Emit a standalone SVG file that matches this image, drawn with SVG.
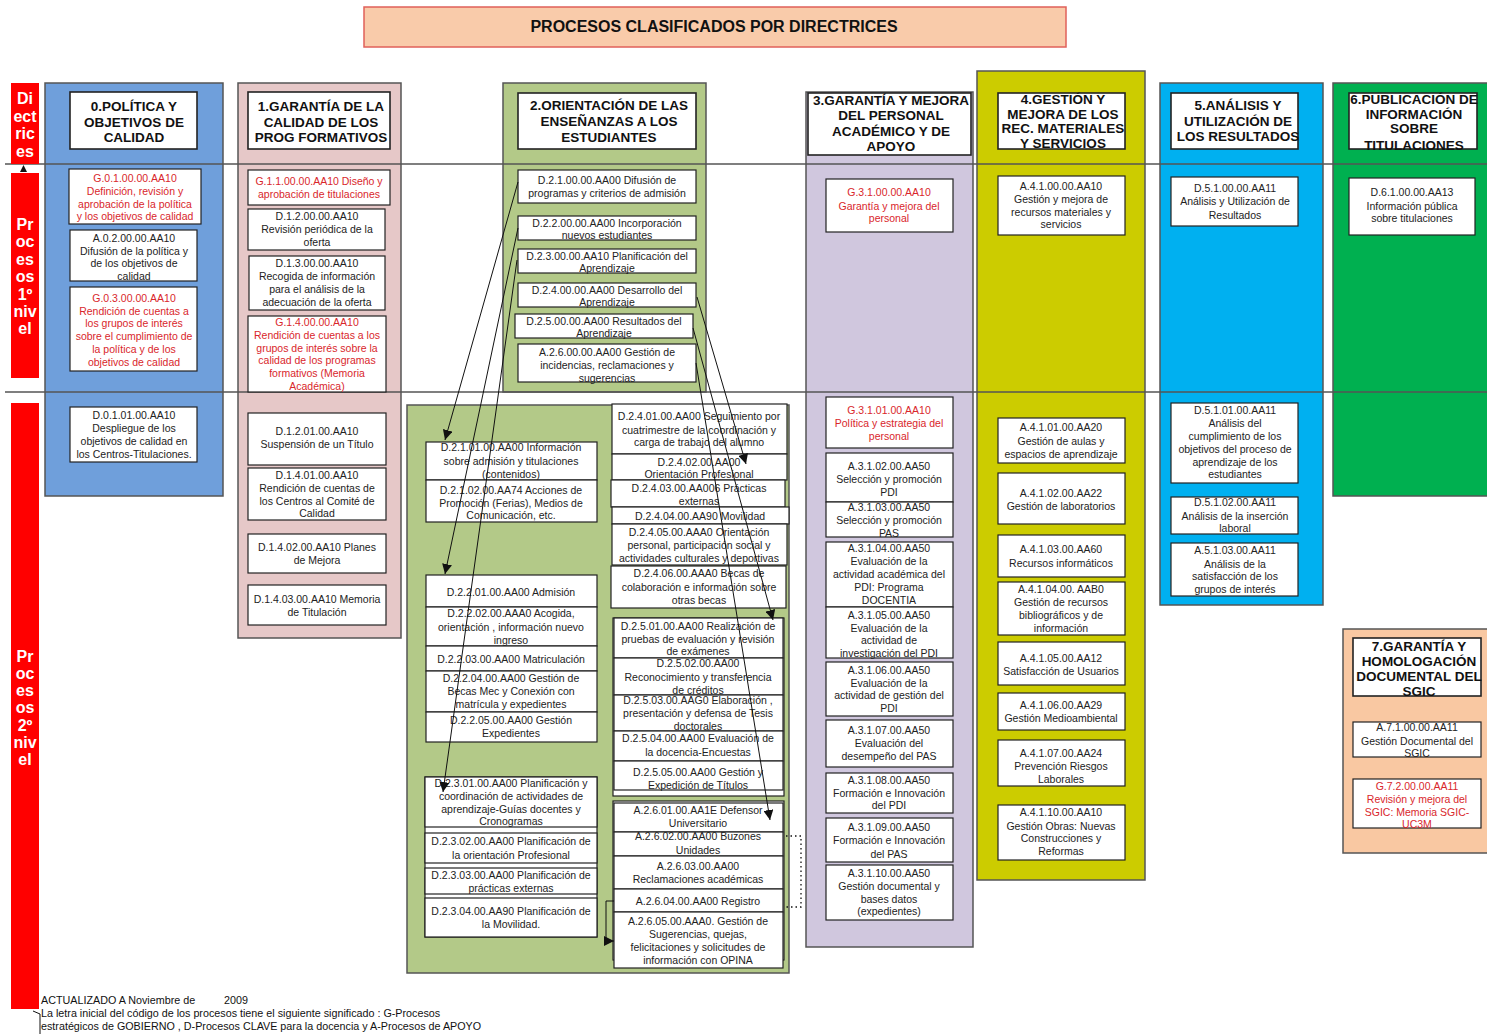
<svg xmlns="http://www.w3.org/2000/svg" width="1487" height="1034" viewBox="0 0 1487 1034">
<style>
.bg{fill:#fff}
.col{stroke:#555;stroke-width:1.5}
.box{fill:#fff;stroke:#222;stroke-width:1.2}
.hdr{fill:#fff;stroke:#222;stroke-width:1.6}
.t{font-family:"Liberation Sans",Arial,sans-serif;font-size:10.5px;fill:#222;text-anchor:middle}
.r{fill:#d9262b}
.h{font-family:"Liberation Sans",Arial,sans-serif;font-size:13.5px;font-weight:bold;fill:#111;text-anchor:middle}
.rb{font-family:"Liberation Sans",Arial,sans-serif;font-size:16px;font-weight:bold;fill:#fff;text-anchor:middle}
.sep{stroke:#555;stroke-width:1.5;fill:none}
.cn{stroke:#111;stroke-width:1;fill:none}
.dot{stroke:#111;stroke-width:1.3;fill:none;stroke-dasharray:1.5 3}
.foot{font-family:"Liberation Sans",Arial,sans-serif;font-size:10.75px;fill:#111}
</style>
<defs>
<marker id="ar" viewBox="0 0 10 10" refX="10" refY="5" markerWidth="10" markerHeight="10" markerUnits="userSpaceOnUse" orient="auto">
<path d="M0,0 L10,5 L0,10 z" fill="#111"/>
</marker>
</defs>
<rect class="bg" x="0" y="0" width="1487" height="1034"/>

<g id="title">
<rect x="364" y="7" width="702" height="40" fill="#F9CBAA" stroke="#E0605A" stroke-width="1.5"/>
<text x="714" y="32" font-family="Liberation Sans, Arial, sans-serif" font-size="16" font-weight="bold" text-anchor="middle" fill="#111">PROCESOS CLASIFICADOS POR DIRECTRICES</text>
</g>

<g id="columns">
<rect class="col" x="45" y="83" width="178" height="413" fill="#6F9FDB"/>
<rect class="col" x="238" y="83" width="163" height="555" fill="#E6C8C8"/>
<rect class="col" x="503" y="83" width="203" height="309" fill="#B3C988"/>
<rect class="col" x="407" y="405" width="382" height="568" fill="#B3C988"/>
<rect class="col" x="806" y="92" width="167" height="855" fill="#D0C7DE"/>
<rect class="col" x="977" y="71" width="168" height="809" fill="#CCCC00"/>
<rect class="col" x="1160" y="83" width="163" height="522" fill="#00B0F0"/>
<rect class="col" x="1333" y="83" width="160" height="413" fill="#00B050"/>
<rect class="col" x="1343" y="629" width="150" height="224" fill="#F9C8A2"/>
</g>

<g id="levels">
<line class="sep" x1="5" y1="164" x2="1487" y2="164"/>
<line class="sep" x1="5" y1="392" x2="1487" y2="392"/>
<rect x="11" y="83" width="28" height="81" fill="#FF0000"/>
<text class="rb" x="25" y="104">Di<tspan x="25" dy="17.5">ect</tspan><tspan x="25" dy="17.5">ric</tspan><tspan x="25" dy="17.5">es</tspan></text>
<rect x="11" y="173" width="28" height="205" fill="#FF0000"/>
<text class="rb" x="25" y="230">Pr<tspan x="25" dy="17.4">oc</tspan><tspan x="25" dy="17.4">es</tspan><tspan x="25" dy="17.4">os</tspan><tspan x="25" dy="17.4">1º</tspan><tspan x="25" dy="17.4">niv</tspan><tspan x="25" dy="17.4">el</tspan></text>
<rect x="11" y="403" width="28" height="606" fill="#FF0000"/>
<text class="rb" x="25" y="662">Pr<tspan x="25" dy="17">oc</tspan><tspan x="25" dy="17">es</tspan><tspan x="25" dy="17">os</tspan><tspan x="25" dy="17.5">2º</tspan><tspan x="25" dy="17">niv</tspan><tspan x="25" dy="17">el</tspan></text>
<path d="M20,172 L27,172 L23.5,165 z" fill="#111"/>
</g>

<g id="h0"><rect class="hdr" x="70" y="92" width="127" height="57"/><text class="h" x="134" y="111">0.POLÍTICA Y<tspan x="134" dy="15.5">OBJETIVOS DE</tspan><tspan x="134" dy="15.5">CALIDAD</tspan></text></g>
<g id="G01"><rect class="box" x="69" y="169" width="132" height="55"/><text class="t r" x="135" y="182">G.0.1.00.00.AA10<tspan x="135" dy="12.8">Definición, revisión y</tspan><tspan x="135" dy="12.8">aprobación de la política</tspan><tspan x="135" dy="12.8">y los objetivos de calidad</tspan></text></g>
<g id="A02"><rect class="box" x="70" y="230" width="127" height="51"/><text class="t" x="134" y="242">A.0.2.00.00.AA10<tspan x="134" dy="12.5">Difusión de la política y</tspan><tspan x="134" dy="12.5">de los objetivos de</tspan><tspan x="134" dy="12.5">calidad</tspan></text></g>
<g id="G03"><rect class="box" x="70" y="287" width="127" height="84"/><text class="t r" x="134" y="302">G.0.3.00.00.AA10<tspan x="134" dy="12.7">Rendición de cuentas a</tspan><tspan x="134" dy="12.7">los grupos de interés</tspan><tspan x="134" dy="12.7">sobre el cumplimiento de</tspan><tspan x="134" dy="12.7">la política y de los</tspan><tspan x="134" dy="12.7">objetivos de calidad</tspan></text></g>
<g id="D0101"><rect class="box" x="70" y="407" width="127" height="55"/><text class="t" x="134" y="419">D.0.1.01.00.AA10<tspan x="134" dy="13">Despliegue de los</tspan><tspan x="134" dy="13">objetivos de calidad  en</tspan><tspan x="134" dy="13">los Centros-Titulaciones.</tspan></text></g>

<g id="h1"><rect class="hdr" x="248" y="92" width="142" height="57"/><text class="h" x="321" y="111">1.GARANTÍA DE LA<tspan x="321" dy="15.5">CALIDAD DE LOS</tspan><tspan x="321" dy="15.5">PROG FORMATIVOS</tspan></text></g>
<g id="G11"><rect class="box" x="248" y="170" width="142" height="35"/><text class="t r" x="319" y="185">G.1.1.00.00.AA10 Diseño y<tspan x="319" dy="13">aprobación de titulaciones</tspan></text></g>
<g id="D12"><rect class="box" x="248" y="209" width="137" height="41"/><text class="t" x="317" y="220">D.1.2.00.00.AA10<tspan x="317" dy="13">Revisión periódica de la</tspan><tspan x="317" dy="13">oferta</tspan></text></g>
<g id="D13"><rect class="box" x="249" y="256" width="136" height="54"/><text class="t" x="317" y="267">D.1.3.00.00.AA10<tspan x="317" dy="13">Recogida de información</tspan><tspan x="317" dy="13">para el análisis de la</tspan><tspan x="317" dy="12.5">adecuación de la oferta</tspan></text></g>
<g id="G14"><rect class="box" x="248" y="316" width="138" height="76"/><text class="t r" x="317" y="326">G.1.4.00.00.AA10<tspan x="317" dy="12.8">Rendición de cuentas a los</tspan><tspan x="317" dy="12.8">grupos de interés sobre la</tspan><tspan x="317" dy="12.8">calidad de los programas</tspan><tspan x="317" dy="12.8">formativos (Memoria</tspan><tspan x="317" dy="12.8">Académica)</tspan></text></g>
<g id="D1201"><rect class="box" x="248" y="413" width="138" height="52"/><text class="t" x="317" y="435">D.1.2.01.00.AA10<tspan x="317" dy="13">Suspensión de un Título</tspan></text></g>
<g id="D1401"><rect class="box" x="248" y="468" width="138" height="52"/><text class="t" x="317" y="479">D.1.4.01.00.AA10<tspan x="317" dy="12.8">Rendición de cuentas de</tspan><tspan x="317" dy="12.8">los Centros al Comité de</tspan><tspan x="317" dy="12.8">Calidad</tspan></text></g>
<g id="D1402"><rect class="box" x="248" y="534" width="138" height="39"/><text class="t" x="317" y="551">D.1.4.02.00.AA10 Planes<tspan x="317" dy="13">de Mejora</tspan></text></g>
<g id="D1403"><rect class="box" x="248" y="585" width="138" height="40"/><text class="t" x="317" y="603">D.1.4.03.00.AA10 Memoria<tspan x="317" dy="12.5">de Titulación</tspan></text></g>

<g id="h2"><rect class="hdr" x="518" y="93" width="178" height="56"/><text class="h" x="609" y="110">2.ORIENTACIÓN DE LAS<tspan x="609" dy="15.8">ENSEÑANZAS A LOS</tspan><tspan x="609" dy="15.8">ESTUDIANTES</tspan></text></g>
<g id="D21"><rect class="box" x="518" y="170" width="178" height="33"/><text class="t" x="607" y="184">D.2.1.00.00.AA00  Difusión de<tspan x="607" dy="13">programas y criterios de admisión</tspan></text></g>
<g id="D22"><rect class="box" x="518" y="216" width="178" height="24"/><text class="t" x="607" y="227">D.2.2.00.00.AA00 Incorporación<tspan x="607" dy="12">nuevos estudiantes</tspan></text></g>
<g id="D23"><rect class="box" x="518" y="249" width="178" height="24"/><text class="t" x="607" y="260">D.2.3.00.00.AA10 Planificación del<tspan x="607" dy="12">Aprendizaje</tspan></text></g>
<g id="D24"><rect class="box" x="518" y="283" width="178" height="24"/><text class="t" x="607" y="294">D.2.4.00.00.AA00 Desarrollo del<tspan x="607" dy="12">Aprendizaje</tspan></text></g>
<g id="D25"><rect class="box" x="515" y="314" width="178" height="24"/><text class="t" x="604" y="325">D.2.5.00.00.AA00 Resultados del<tspan x="604" dy="12">Aprendizaje</tspan></text></g>
<g id="A26"><rect class="box" x="518" y="344" width="178" height="38"/><text class="t" x="607" y="356">A.2.6.00.00.AA00 Gestión de<tspan x="607" dy="12.5">incidencias, reclamaciones y</tspan><tspan x="607" dy="13">sugerencias</tspan></text></g>

<g id="D2101"><rect class="box" x="426" y="442" width="171" height="38"/><text class="t" x="511" y="451">D.2.1.01.00.AA00 Información<tspan x="511" dy="13.5">sobre admisión y titulaciones</tspan><tspan x="511" dy="13">(contenidos)</tspan></text></g>
<g id="D2102"><rect class="box" x="426" y="480" width="171" height="42"/><text class="t" x="511" y="494">D.2.1.02.00.AA74 Acciones de<tspan x="511" dy="12.5">Promoción  (Ferias), Medios de</tspan><tspan x="511" dy="12.5">Comunicación, etc.</tspan></text></g>
<g id="D2201"><rect class="box" x="426" y="575" width="171" height="32"/><text class="t" x="511" y="596">D.2.2.01.00.AA00 Admisión</text></g>
<g id="D2202"><rect class="box" x="426" y="607" width="171" height="39"/><text class="t" x="511" y="617">D.2.2.02.00.AAA0 Acogida,<tspan x="511" dy="13.5">orientación , información nuevo</tspan><tspan x="511" dy="13">ingreso</tspan></text></g>
<g id="D2203"><rect class="box" x="426" y="646" width="171" height="25"/><text class="t" x="511" y="663">D.2.2.03.00.AA00 Matriculación</text></g>
<g id="D2204"><rect class="box" x="426" y="671" width="171" height="41"/><text class="t" x="511" y="682">D.2.2.04.00.AA00 Gestión de<tspan x="511" dy="13">Becas Mec y Conexión con</tspan><tspan x="511" dy="13">matrícula y expedientes</tspan></text></g>
<g id="D2205"><rect class="box" x="426" y="712" width="171" height="30"/><text class="t" x="511" y="724">D.2.2.05.00.AA00 Gestión<tspan x="511" dy="13">Expedientes</tspan></text></g>
<g id="D23grp"><rect class="box" x="425" y="777" width="172" height="160"/></g>
<g id="D2301"><rect class="box" x="425" y="777" width="172" height="50"/><text class="t" x="511" y="787">D.2.3.01.00.AA00 Planificación y<tspan x="511" dy="12.8">coordinación de actividades de</tspan><tspan x="511" dy="12.8">aprendizaje-Guías docentes y</tspan><tspan x="511" dy="12.8">Cronogramas</tspan></text></g>
<g id="D2302"><rect class="box" x="425" y="833" width="172" height="30"/><text class="t" x="511" y="845">D.2.3.02.00.AA00 Planificación de<tspan x="511" dy="14">la orientación Profesional</tspan></text></g>
<g id="D2303"><rect class="box" x="425" y="868" width="172" height="26"/><text class="t" x="511" y="879">D.2.3.03.00.AA00 Planificación de<tspan x="511" dy="13">prácticas externas</tspan></text></g>
<g id="D2304"><rect class="box" x="425" y="898" width="172" height="39"/><text class="t" x="511" y="915">D.2.3.04.00.AA90 Planificación de<tspan x="511" dy="13">la Movilidad.</tspan></text></g>

<g id="D2401"><rect class="box" x="612" y="404" width="175" height="50"/><text class="t" x="699" y="420">D.2.4.01.00.AA00 Seguimiento por<tspan x="699" dy="13.5">cuatrimestre de la coordinación y</tspan><tspan x="699" dy="12.5">carga de trabajo del alumno</tspan></text></g>
<g id="D2402"><rect class="box" x="612" y="454" width="175" height="26"/><text class="t" x="699" y="466">D.2.4.02.00.AA00<tspan x="699" dy="12">Orientación Profesional</tspan></text></g>
<g id="D2403"><rect class="box" x="611" y="480" width="174" height="27"/><text class="t" x="699" y="492">D.2.4.03.00.AA006 Prácticas<tspan x="699" dy="13">externas</tspan></text></g>
<g id="D2404"><rect class="box" x="612" y="507" width="177" height="17"/><text class="t" x="700" y="520">D.2.4.04.00.AA90 Movilidad</text></g>
<g id="D2405"><rect class="box" x="612" y="524" width="175" height="41"/><text class="t" x="699" y="536">D.2.4.05.00.AAA0 Orientación<tspan x="699" dy="13">personal, participación social y</tspan><tspan x="699" dy="13">actividades culturales y deportivas</tspan></text></g>
<g id="D2406"><rect class="box" x="611" y="566" width="175" height="42"/><text class="t" x="699" y="577">D.2.4.06.00.AAA0 Becas de<tspan x="699" dy="13.5">colaboración e información sobre</tspan><tspan x="699" dy="13">otras becas</tspan></text></g>

<g id="D25grp"><rect class="box" x="613" y="618" width="171" height="178"/></g>
<g id="D2501"><rect class="box" x="614" y="618" width="169" height="40"/><text class="t" x="698" y="630">D.2.5.01.00.AA00 Realización de<tspan x="698" dy="12.5">pruebas de evaluación y revisión</tspan><tspan x="698" dy="12.5">de exámenes</tspan></text></g>
<g id="D2502"><rect class="box" x="614" y="658" width="169" height="37"/><text class="t" x="698" y="667">D.2.5.02.00.AA00<tspan x="698" dy="13.5">Reconocimiento y transferencia</tspan><tspan x="698" dy="13">de créditos</tspan></text></g>
<g id="D2503"><rect class="box" x="614" y="695" width="169" height="36"/><text class="t" x="698" y="704">D.2.5.03.00.AAG0 Elaboración ,<tspan x="698" dy="13">presentación y defensa de Tesis</tspan><tspan x="698" dy="13">doctorales</tspan></text></g>
<g id="D2504"><rect class="box" x="614" y="731" width="169" height="30"/><text class="t" x="698" y="742">D.2.5.04.00.AA00  Evaluación de<tspan x="698" dy="14">la docencia-Encuestas</tspan></text></g>
<g id="D2505"><rect class="box" x="614" y="761" width="169" height="29"/><text class="t" x="698" y="776">D.2.5.05.00.AA00 Gestión y<tspan x="698" dy="12.5">Expedición de Títulos</tspan></text></g>

<g id="A26grp"><rect class="box" x="613" y="801" width="171" height="159"/></g>
<g id="A2601"><rect class="box" x="614" y="803" width="169" height="29"/><text class="t" x="698" y="814">A.2.6.01.00.AA1E Defensor<tspan x="698" dy="13">Universitario</tspan></text></g>
<g id="A2602"><rect class="box" x="614" y="832" width="169" height="24"/><text class="t" x="698" y="840">A.2.6.02.00.AA00 Buzones<tspan x="698" dy="14">Unidades</tspan></text></g>
<g id="A2603"><rect class="box" x="614" y="856" width="169" height="33"/><text class="t" x="698" y="870">A.2.6.03.00.AA00<tspan x="698" dy="12.5">Reclamaciones académicas</tspan></text></g>
<g id="A2604"><rect class="box" x="614" y="889" width="169" height="23"/><text class="t" x="698" y="905">A.2.6.04.00.AA00  Registro</text></g>
<g id="A2605"><rect class="box" x="614" y="912" width="169" height="56"/><text class="t" x="698" y="925">A.2.6.05.00.AAA0. Gestión de<tspan x="698" dy="13">Sugerencias, quejas,</tspan><tspan x="698" dy="13">felicitaciones y solicitudes de</tspan><tspan x="698" dy="13">información con OPINA</tspan></text></g>

<g id="h3"><rect class="hdr" x="808" y="93" width="163" height="62"/><text class="h" x="891" y="105">3.GARANTÍA Y MEJORA<tspan x="891" dy="15.3">DEL PERSONAL</tspan><tspan x="891" dy="15.3">ACADÉMICO Y DE</tspan><tspan x="891" dy="15.3">APOYO</tspan></text></g>
<g id="G31"><rect class="box" x="826" y="179" width="127" height="53"/><text class="t r" x="889" y="196">G.3.1.00.00.AA10<tspan x="889" dy="13.5">Garantía y mejora del</tspan><tspan x="889" dy="12.5">personal</tspan></text></g>
<g id="G3101"><rect class="box" x="826" y="397" width="127" height="51"/><text class="t r" x="889" y="414">G.3.1.01.00.AA10<tspan x="889" dy="12.5">Política y estrategia del</tspan><tspan x="889" dy="13">personal</tspan></text></g>
<g id="A3102"><rect class="box" x="826" y="453" width="127" height="49"/><text class="t" x="889" y="470">A.3.1.02.00.AA50<tspan x="889" dy="12.5">Selección y promoción</tspan><tspan x="889" dy="13">PDI</tspan></text></g>
<g id="A3103"><rect class="box" x="826" y="502" width="127" height="35"/><text class="t" x="889" y="511">A.3.1.03.00.AA50<tspan x="889" dy="13">Selección y promoción</tspan><tspan x="889" dy="12.5">PAS</tspan></text></g>
<g id="A3104"><rect class="box" x="826" y="542" width="127" height="65"/><text class="t" x="889" y="552">A.3.1.04.00.AA50<tspan x="889" dy="13">Evaluación de la</tspan><tspan x="889" dy="13">actividad académica del</tspan><tspan x="889" dy="13">PDI: Programa</tspan><tspan x="889" dy="13">DOCENTIA</tspan></text></g>
<g id="A3105"><rect class="box" x="826" y="607" width="127" height="51"/><text class="t" x="889" y="619">A.3.1.05.00.AA50<tspan x="889" dy="12.5">Evaluación de la</tspan><tspan x="889" dy="12.8">actividad de</tspan><tspan x="889" dy="12.5">investigación del PDI</tspan></text></g>
<g id="A3106"><rect class="box" x="826" y="662" width="127" height="54"/><text class="t" x="889" y="674">A.3.1.06.00.AA50<tspan x="889" dy="12.8">Evaluación de la</tspan><tspan x="889" dy="12.5">actividad de gestión del</tspan><tspan x="889" dy="12.8">PDI</tspan></text></g>
<g id="A3107"><rect class="box" x="826" y="720" width="127" height="47"/><text class="t" x="889" y="734">A.3.1.07.00.AA50<tspan x="889" dy="12.5">Evaluación del</tspan><tspan x="889" dy="13.5">desempeño del PAS</tspan></text></g>
<g id="A3108"><rect class="box" x="826" y="773" width="127" height="40"/><text class="t" x="889" y="784">A.3.1.08.00.AA50<tspan x="889" dy="12.5">Formación e Innovación</tspan><tspan x="889" dy="12.8">del PDI</tspan></text></g>
<g id="A3109"><rect class="box" x="826" y="818" width="127" height="44"/><text class="t" x="889" y="831">A.3.1.09.00.AA50<tspan x="889" dy="13">Formación e Innovación</tspan><tspan x="889" dy="13.5">del PAS</tspan></text></g>
<g id="A3110"><rect class="box" x="826" y="865" width="127" height="55"/><text class="t" x="889" y="877">A.3.1.10.00.AA50<tspan x="889" dy="12.8">Gestión documental y</tspan><tspan x="889" dy="12.8">bases datos</tspan><tspan x="889" dy="12.5">(expedientes)</tspan></text></g>

<g id="h4"><rect class="hdr" x="998" y="93" width="127" height="56"/><text class="h" x="1063" y="104" font-size="13">4.GESTIÓN Y<tspan x="1063" dy="14.5">MEJORA DE LOS</tspan><tspan x="1063" dy="14.5">REC. MATERIALES</tspan><tspan x="1063" dy="14.5">Y SERVICIOS</tspan></text></g>
<g id="A41"><rect class="box" x="998" y="176" width="127" height="59"/><text class="t" x="1061" y="190">A.4.1.00.00.AA10<tspan x="1061" dy="12.8">Gestión y mejora de</tspan><tspan x="1061" dy="12.8">recursos materiales y</tspan><tspan x="1061" dy="12.5">servicios</tspan></text></g>
<g id="A4101"><rect class="box" x="998" y="418" width="127" height="45"/><text class="t" x="1061" y="431">A.4.1.01.00.AA20<tspan x="1061" dy="13.5">Gestión de aulas y</tspan><tspan x="1061" dy="13">espacios de aprendizaje</tspan></text></g>
<g id="A4102"><rect class="box" x="998" y="473" width="127" height="51"/><text class="t" x="1061" y="497">A.4.1.02.00.AA22<tspan x="1061" dy="13">Gestión de laboratorios</tspan></text></g>
<g id="A4103"><rect class="box" x="998" y="535" width="127" height="42"/><text class="t" x="1061" y="553">A.4.1.03.00.AA60<tspan x="1061" dy="14">Recursos informáticos</tspan></text></g>
<g id="A4104"><rect class="box" x="998" y="582" width="127" height="53"/><text class="t" x="1061" y="593">A.4.1.04.00. AAB0<tspan x="1061" dy="13">Gestión de recursos</tspan><tspan x="1061" dy="13">bibliográficos y de</tspan><tspan x="1061" dy="12.5">información</tspan></text></g>
<g id="A4105"><rect class="box" x="998" y="642" width="127" height="43"/><text class="t" x="1061" y="662">A.4.1.05.00.AA12<tspan x="1061" dy="12.5">Satisfacción de Usuarios</tspan></text></g>
<g id="A4106"><rect class="box" x="998" y="693" width="127" height="37"/><text class="t" x="1061" y="709">A.4.1.06.00.AA29<tspan x="1061" dy="13">Gestión  Medioambiental</tspan></text></g>
<g id="A4107"><rect class="box" x="998" y="740" width="127" height="46"/><text class="t" x="1061" y="757">A.4.1.07.00.AA24<tspan x="1061" dy="13">Prevención Riesgos</tspan><tspan x="1061" dy="13">Laborales</tspan></text></g>
<g id="A4110"><rect class="box" x="998" y="805" width="127" height="55"/><text class="t" x="1061" y="816">A.4.1.10.00.AA10<tspan x="1061" dy="13.5">Gestión Obras: Nuevas</tspan><tspan x="1061" dy="12.5">Construcciones y</tspan><tspan x="1061" dy="13">Reformas</tspan></text></g>

<g id="h5"><rect class="hdr" x="1171" y="93" width="127" height="56"/><text class="h" x="1238" y="110">5.ANÁLISIS Y<tspan x="1238" dy="15.5">UTILIZACIÓN DE</tspan><tspan x="1238" dy="15.5">LOS RESULTADOS</tspan></text></g>
<g id="D51"><rect class="box" x="1171" y="177" width="127" height="49"/><text class="t" x="1235" y="192">D.5.1.00.00.AA11<tspan x="1235" dy="13">Análisis y Utilización de</tspan><tspan x="1235" dy="13.5">Resultados</tspan></text></g>
<g id="D5101"><rect class="box" x="1171" y="403" width="127" height="80"/><text class="t" x="1235" y="414">D.5.1.01.00.AA11<tspan x="1235" dy="13">Análisis del</tspan><tspan x="1235" dy="13">cumplimiento de los</tspan><tspan x="1235" dy="13">objetivos del proceso de</tspan><tspan x="1235" dy="13">aprendizaje de los</tspan><tspan x="1235" dy="12">estudiantes</tspan></text></g>
<g id="D5102"><rect class="box" x="1171" y="497" width="127" height="37"/><text class="t" x="1235" y="506">D.5.1.02.00.AA11<tspan x="1235" dy="13.5">Análisis de la inserción</tspan><tspan x="1235" dy="12.5">laboral</tspan></text></g>
<g id="A5103"><rect class="box" x="1171" y="543" width="127" height="53"/><text class="t" x="1235" y="554">A.5.1.03.00.AA11<tspan x="1235" dy="13.5">Análisis de la</tspan><tspan x="1235" dy="12.5">satisfacción de los</tspan><tspan x="1235" dy="13">grupos de interés</tspan></text></g>

<g id="h6"><rect class="hdr" x="1349" y="93" width="128" height="56"/><text class="h" x="1414" y="104">6.PUBLICACIÓN DE<tspan x="1414" dy="14.7">INFORMACIÓN</tspan><tspan x="1414" dy="14">SOBRE</tspan><tspan x="1414" dy="17">TITULACIONES</tspan></text></g>
<g id="D61"><rect class="box" x="1349" y="178" width="126" height="57"/><text class="t" x="1412" y="196">D.6.1.00.00.AA13<tspan x="1412" dy="14">Información pública</tspan><tspan x="1412" dy="12">sobre titulaciones</tspan></text></g>

<g id="h7"><rect class="hdr" x="1353" y="638" width="128" height="58"/><text class="h" x="1419" y="651">7.GARANTÍA Y<tspan x="1419" dy="15">HOMOLOGACIÓN</tspan><tspan x="1419" dy="15">DOCUMENTAL DEL</tspan><tspan x="1419" dy="15">SGIC</tspan></text></g>
<g id="A71"><rect class="box" x="1353" y="722" width="128" height="35"/><text class="t" x="1417" y="731">A.7.1.00.00.AA11<tspan x="1417" dy="13.5">Gestión Documental del</tspan><tspan x="1417" dy="12.5">SGIC</tspan></text></g>
<g id="G72"><rect class="box" x="1353" y="779" width="128" height="49"/><text class="t r" x="1417" y="790">G.7.2.00.00.AA11<tspan x="1417" dy="12.5">Revisión y mejora del</tspan><tspan x="1417" dy="13">SGIC: Memoria SGIC-</tspan><tspan x="1417" dy="12">UC3M</tspan></text></g>

<g id="connectors">
<line class="cn" x1="518" y1="182" x2="445" y2="440" marker-end="url(#ar)"/>
<line class="cn" x1="518" y1="228" x2="445" y2="574" marker-end="url(#ar)"/>
<line class="cn" x1="517" y1="260" x2="443" y2="792" marker-end="url(#ar)"/>
<line class="cn" x1="697" y1="297" x2="746" y2="464" marker-end="url(#ar)"/>
<line class="cn" x1="693" y1="328" x2="773" y2="620" marker-end="url(#ar)"/>
<line class="cn" x1="696" y1="363" x2="770" y2="820" marker-end="url(#ar)"/>
<path class="cn" d="M614,901 H606 V941 H614" marker-end="url(#ar)"/>
<path class="dot" d="M786,836 H801 V907 H786"/>
</g>

<g id="footer">
<path d="M33,1011 L40,1014 V1034" stroke="#111" stroke-width="1" fill="none"/>
<text class="foot" x="41" y="1004">ACTUALIZADO A Noviembre  de</text>
<text class="foot" x="224" y="1004">2009</text>
<text class="foot" x="41" y="1017">La letra inicial del código de los procesos tiene el siguiente significado : G-Procesos</text>
<text class="foot" x="41" y="1030">estratégicos de GOBIERNO , D-Procesos CLAVE para la docencia y A-Procesos de APOYO</text>
</g>
</svg>
